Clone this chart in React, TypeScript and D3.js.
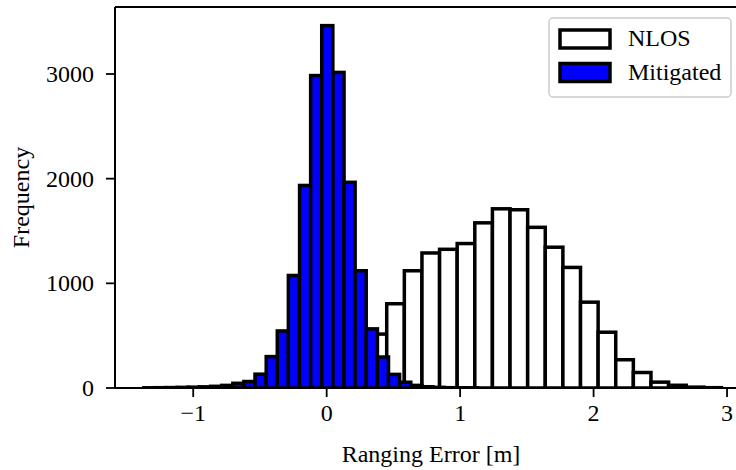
import React from "react";
import * as d3 from "d3";

// Mitigated histogram: bin left edges and counts (bin width ~0.0833 m)
const mitigatedEdges = [
  -1.370, -1.287, -1.203, -1.120, -1.037, -0.953, -0.870, -0.787, -0.703, -0.620,
  -0.537, -0.453, -0.370, -0.287, -0.203, -0.120, -0.037, 0.047, 0.130, 0.213,
  0.297, 0.380, 0.463, 0.547, 0.630, 0.713, 0.797, 0.880, 0.963, 1.047,
];
const mitigatedCounts = [
  2, 3, 4, 6, 8, 11, 16, 25, 45, 62,
  132, 300, 545, 1075, 1935, 2985, 3462, 3015, 1965, 1120,
  565, 296, 130, 55, 25, 12, 6, 3, 2, 1,
];
const mitigatedWidth = 0.0833;

// NLOS histogram: bin left edges and counts (bin width ~0.132 m)
const nlosEdges = [
  -1.002, -0.870, -0.738, -0.606, -0.474, -0.342, -0.210, -0.078, 0.054, 0.186,
  0.318, 0.450, 0.582, 0.714, 0.846, 0.978, 1.110, 1.242, 1.374, 1.506,
  1.638, 1.770, 1.902, 2.034, 2.166, 2.298, 2.430, 2.562, 2.694, 2.826,
];
const nlosCounts = [
  1, 1, 2, 3, 6, 12, 25, 55, 110, 230,
  515, 805, 1120, 1290, 1325, 1380, 1578, 1712, 1703, 1535,
  1345, 1152, 820, 533, 270, 148, 56, 26, 8, 3,
];
const nlosWidth = 0.132;

const xTicks = [-1, 0, 1, 2, 3];
const yTicks = [0, 1000, 2000, 3000];
const xDomain = [-1.586, 3.172];
const yDomain = [0, 3640];

const seriesNames = ["NLOS", "Mitigated"];
const seriesFills = ["#ffffff", "#0000ff"];

const W = 736;
const H = 470;
const L = 115;
const R = 750;
const T = 7;
const B = 388;
const FONT = "'Liberation Serif', 'Times New Roman', serif";

export default function App() {
  const x = d3.scaleLinear().domain(xDomain).range([L, R]);
  const y = d3.scaleLinear().domain(yDomain).range([B, T]);

  const fmt = (v: number) => (v < 0 ? "\u2212" + Math.abs(v) : String(v));

  const bars = (edges: number[], counts: number[], w: number, fill: string, key: string) =>
    edges.map((e, i) => (
      <rect
        key={key + i}
        x={x(e)}
        y={y(counts[i])}
        width={x(e + w) - x(e)}
        height={B - y(counts[i])}
        fill={fill}
        stroke="#000"
        strokeWidth={3.5}
      />
    ));

  return (
    <svg
      width={W}
      height={H}
      style={{ position: "absolute", left: 0, top: 0, background: "#fff" }}
      fontFamily={FONT}
    >
      <defs>
        <clipPath id="plotclip">
          <rect x={L} y={T} width={R - L} height={B - T} />
        </clipPath>
      </defs>
      <rect x={0} y={0} width={W} height={H} fill="#fff" />
      <g clipPath="url(#plotclip)">
        {bars(nlosEdges, nlosCounts, nlosWidth, seriesFills[0], "n")}
        {bars(mitigatedEdges, mitigatedCounts, mitigatedWidth, seriesFills[1], "m")}
      </g>
      {/* spines */}
      <g stroke="#000" strokeWidth={2} fill="none">
        <line x1={L} y1={T} x2={L} y2={B} />
        <line x1={L} y1={B} x2={R} y2={B} />
        <line x1={L} y1={T} x2={R} y2={T} />
        <line x1={R} y1={T} x2={R} y2={B} />
      </g>
      {/* x ticks */}
      {xTicks.map((t) => (
        <g key={"xt" + t}>
          <line x1={x(t)} x2={x(t)} y1={B} y2={B + 9} stroke="#000" strokeWidth={1.8} />
          <text x={x(t)} y={B + 33} textAnchor="middle" fontSize={24} fill="#000">
            {fmt(t)}
          </text>
        </g>
      ))}
      {/* y ticks */}
      {yTicks.map((t) => (
        <g key={"yt" + t}>
          <line x1={L - 9} x2={L} y1={y(t)} y2={y(t)} stroke="#000" strokeWidth={1.8} />
          <text x={L - 21} y={y(t) + 8} textAnchor="end" fontSize={24} fill="#000">
            {t}
          </text>
        </g>
      ))}
      <text x={431} y={462} textAnchor="middle" fontSize={24} fill="#000">
        Ranging Error [m]
      </text>
      <text
        transform={`translate(29, ${(T + B) / 2}) rotate(-90)`}
        textAnchor="middle"
        fontSize={24}
        fill="#000"
      >
        Frequency
      </text>
      {/* legend */}
      <g>
        <rect x={549} y={18} width={182} height={79} rx={4} fill="#fff" fillOpacity={0.8} stroke="#cccccc" strokeWidth={1.5} />
        {seriesNames.map((n, i) => (
          <g key={n}>
            <rect x={560} y={30 + i * 33.5} width={50} height={18} fill={seriesFills[i]} stroke="#000" strokeWidth={3.5} />
            <text x={628} y={46 + i * 34} fontSize={24} fill="#000">
              {n}
            </text>
          </g>
        ))}
      </g>
    </svg>
  );
}
